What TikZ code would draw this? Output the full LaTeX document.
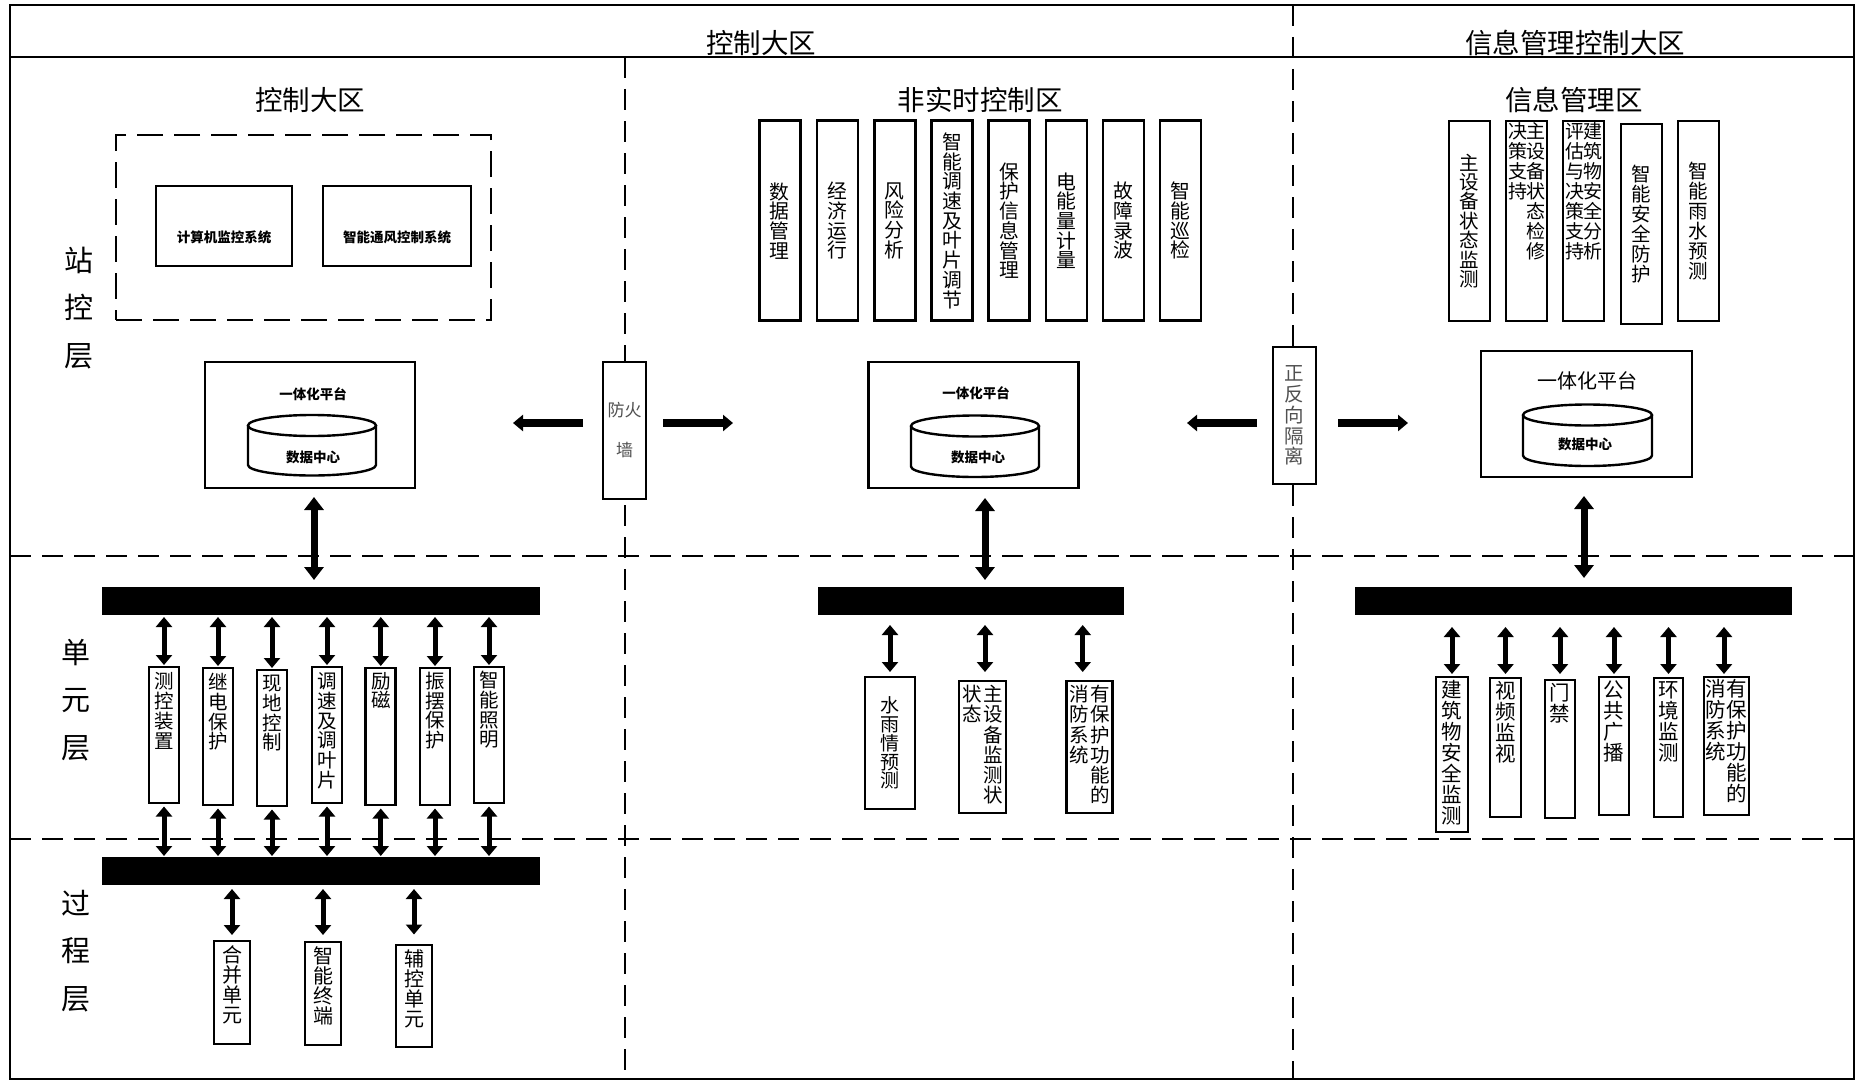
\documentclass[tikz,border=0pt]{standalone}
\usepackage{fontspec}
\setmainfont{Noto Sans CJK SC}
\usetikzlibrary{arrows.meta}
\definecolor{fwgray}{RGB}{80,80,80}
\makeatletter
\def\VT#1{\VT@a#1\@nil}
\def\VT@a#1#2\@nil{#1\ifx\relax#2\relax\expandafter\@gobble\else\expandafter\@firstofone\fi{\\\VT@a#2\@nil}}
\makeatother
\newcommand\fsz[2]{\fontsize{#1pt}{#2pt}\selectfont}
\newcommand\TBox[4]{\parbox[c][#2pt][t]{#1pt}{\centering\vspace*{#3pt}#4\par}}
\newcommand\CBox[3]{\parbox[c][#2pt][c]{#1pt}{\centering #3\par}}
\newcommand\TwoCol[3]{\parbox[t]{#1pt}{\centering\VT{#2}}\parbox[t]{#1pt}{\centering\VT{#3}}}
\tikzset{
  frameline/.style={line width=2.8pt},
  dashline/.style={line width=2.8pt, dash pattern=on 21pt off 11pt},
  dboxline/.style={draw, line width=2.8pt, dash pattern=on 26pt off 11pt, inner sep=0pt},
  vb/.style={draw, line width=2.8pt, fill=white, inner sep=0pt, outer sep=0pt},
  busbar/.style={fill=black, draw=none, inner sep=0pt, outer sep=0pt},
  dbl/.style={line width=5pt, {Triangle[width=16pt,length=10pt]}-{Triangle[width=16pt,length=10pt]}},
  bigdbl/.style={line width=7pt, {Triangle[width=19pt,length=13pt]}-{Triangle[width=19pt,length=13pt]}},
  harrow/.style={line width=8pt, -{Triangle[width=16pt,length=10pt]}},
  ttl/.style={inner sep=0pt, font=\fsz{27.5}{30}},
  layer/.style={inner sep=0pt, align=center, font=\fsz{29}{47.5}},
  smallb/.style={inner sep=0pt, font=\fsz{13.5}{14}\bfseries},
  cyl/.style={line width=2.4pt, fill=white},
}
\begin{document}
\lineskiplimit=-100pt\relax
\lineskip=0pt\relax
\begin{tikzpicture}[x=1pt,y=-1pt]
\useasboundingbox (0,0) rectangle (1856,1081);
% frame
\draw[frameline] (10,5) rectangle (1854,1079);
\draw[frameline] (10,57) -- (1854,57);
\draw[dashline] (625,57) -- (625,1079);
\draw[dashline] (1293,5) -- (1293,1079);
\draw[dashline] (10,556) -- (1854,556);
\draw[dashline] (10,839) -- (1854,839);
% titles
\node[ttl] (hdA) at (761,43) {控制大区};
\node[ttl] (hdB) at (1575,43) {信息管理控制大区};
\node[ttl] (tiA) at (310,100) {控制大区};
\node[ttl] (tiB) at (980,100) {非实时控制区};
\node[ttl] (tiC) at (1574,100) {信息管理区};
% layers
\node[layer] (ly1) at (79,308) {站\\控\\层};
\node[layer] (ly2) at (76,700) {单\\元\\层};
\node[layer] (ly3) at (76,951) {过\\程\\层};
% left station
\node[dboxline, minimum width=375pt, minimum height=185pt] (grp) at (303.5,227.5) {};
\node[vb, minimum width=136pt, minimum height=80pt] (b1) at (224,226) {};
\node[smallb] (b1t) at (224,237.5) {计算机监控系统};
\node[vb, minimum width=148pt, minimum height=80pt] (b2) at (397,226) {};
\node[smallb] (b2t) at (397,237.5) {智能通风控制系统};
\node[vb, minimum width=210pt, minimum height=126pt] (platL) at (310,425) {};
\draw[cyl] (248,425.5) -- (248,465) arc[start angle=180,end angle=360,x radius=64pt,y radius=10.5pt] -- (376,425.5);
\draw[cyl] (312,425.5) ellipse [x radius=64pt, y radius=10.5pt];
\node[smallb] (tL1) at (313,394) {一体化平台};
\node[smallb] (tL2) at (313,457) {数据中心};
% firewall
\node[vb, font=\fsz{17}{40}, text=fwgray] (fw) at (624.5,430.5) {\CBox{43}{137}{防火\\墙}};
\coordinate (fwLt) at (513,423);
\coordinate (fwRt) at (733,423);
\draw[harrow, shorten <=20pt] (fw.west |- fwLt) -- (fwLt);
\draw[harrow, shorten <=17pt] (fw.east |- fwRt) -- (fwRt);
% middle station
\foreach \i/\x/\t in {1/779.8/数据管理,2/837.5/经济运行,3/894.8/风险分析,4/952/智能调速及叶片调节,5/1009/保护信息管理,6/1066.5/电能量计量,7/1123.5/故障录波,8/1180.5/智能巡检}{
  \node[vb, font=\fsz{19.8}{19.7}] (n\i) at (\x,220.7) {\CBox{41}{200}{\expandafter\VT\expandafter{\t}}};
}
\node[vb, minimum width=210pt, minimum height=126pt] (platM) at (973.5,425) {};
\draw[cyl] (911,426) -- (911,466.5) arc[start angle=180,end angle=360,x radius=64pt,y radius=10.5pt] -- (1039,426);
\draw[cyl] (975,426) ellipse [x radius=64pt, y radius=10.5pt];
\node[smallb] (tM1) at (976,393) {一体化平台};
\node[smallb] (tM2) at (978,457) {数据中心};
% isolation
\node[vb, font=\fsz{19.5}{20.8}, text=fwgray] (iso) at (1294.5,415.5) {\CBox{43}{137}{\VT{正反向隔离}}};
\coordinate (isLt) at (1187,423);
\coordinate (isRt) at (1408,423);
\draw[harrow, shorten <=16pt] (iso.west |- isLt) -- (isLt);
\draw[harrow, shorten <=22pt] (iso.east |- isRt) -- (isRt);
% right station
\node[vb, font=\fsz{19.5}{19.4}] (r1) at (1469.5,221) {\CBox{41}{200}{\VT{主设备状态监测}}};
\node[vb, font=\fsz{19}{19.9}] (r2) at (1526.5,221) {\TBox{41}{200}{2}{\TwoCol{18.5}{决策支持}{主设备状态检修}}};
\node[vb, font=\fsz{19}{19.9}] (r3) at (1583.5,221) {\TBox{41}{200}{2}{\TwoCol{18.5}{评估与决策支持}{建筑物安全分析}}};
\node[vb, font=\fsz{19.5}{20}] (r4) at (1641.5,224) {\CBox{41}{200}{\VT{智能安全防护}}};
\node[vb, font=\fsz{19.5}{20}] (r5) at (1698.5,221) {\CBox{41}{200}{\VT{智能雨水预测}}};
\node[vb, minimum width=211pt, minimum height=126pt] (platR) at (1586.5,414) {};
\draw[cyl] (1523,415) -- (1523,455.5) arc[start angle=180,end angle=360,x radius=64.5pt,y radius=10.5pt] -- (1652,415);
\draw[cyl] (1587.5,415) ellipse [x radius=64.5pt, y radius=10.5pt];
\node[inner sep=0pt, font=\fsz{20}{20}] (tR1) at (1587,381) {一体化平台};
\node[smallb] (tR2) at (1585,444) {数据中心};
% buses
\node[busbar, minimum width=438pt, minimum height=28pt] (busL) at (321,601) {};
\node[busbar, minimum width=306pt, minimum height=28pt] (busM) at (971,601) {};
\node[busbar, minimum width=437pt, minimum height=28pt] (busR) at (1573.5,601) {};
\node[busbar, minimum width=438pt, minimum height=28pt] (busP) at (321,871) {};
% big vertical arrows
\coordinate (aL) at ([xshift=4pt]platL.south);
\coordinate (aM) at ([xshift=11.5pt]platM.south);
\coordinate (aR) at ([xshift=-2.5pt]platR.south);
\draw[bigdbl, shorten <=9pt, shorten >=7pt] (aL) -- (aL |- busL.north);
\draw[bigdbl, shorten <=10pt, shorten >=7pt] (aM) -- (aM |- busM.north);
\draw[bigdbl, shorten <=19pt, shorten >=9pt] (aR) -- (aR |- busR.north);
% left unit boxes
\begin{scope}[every node/.style={vb, font=\fsz{19.5}{19.8}}]
\node (u1) at (164,735) {\TBox{30}{136}{5.5}{\VT{测控装置}}};
\node (u2) at (218,736.5) {\TBox{30}{137}{5}{\VT{继电保护}}};
\node (u3) at (272,738) {\TBox{30}{136}{5}{\VT{现地控制}}};
\node (u4) at (327,735) {\TBox{30}{136}{5.5}{\VT{调速及调叶片}}};
\node (u5) at (380.75,736.5) {\TBox{30}{137}{4}{\VT{励磁}}};
\node (u6) at (435,736.5) {\TBox{30}{137}{4}{\VT{振摆保护}}};
\node (u7) at (489,735) {\TBox{30}{136}{4}{\VT{智能照明}}};
\end{scope}
\foreach \n in {u1,u2,u3,u4,u5,u6,u7}{
  \draw[dbl, shorten <=2pt, shorten >=2pt] (\n.north |- busL.south) -- (\n.north);
  \draw[dbl, shorten <=3.5pt, shorten >=1pt] (\n.south) -- (\n.south |- busP.north);
}
% process boxes
\begin{scope}[every node/.style={vb, font=\fsz{20}{20}}]
\node (p1) at (232,992.5) {\TBox{36}{103}{4.5}{\VT{合并单元}}};
\node (p2) at (323,993.5) {\TBox{36}{103}{4.5}{\VT{智能终端}}};
\node (p3) at (414,996) {\TBox{36}{102}{4.5}{\VT{辅控单元}}};
\end{scope}
\draw[dbl, shorten <=4pt, shorten >=6pt] (p1.north |- busP.south) -- (p1.north);
\draw[dbl, shorten <=4pt, shorten >=7pt] (p2.north |- busP.south) -- (p2.north);
\draw[dbl, shorten <=4pt, shorten >=10.5pt] (p3.north |- busP.south) -- (p3.north);
% middle unit boxes
\node[vb, font=\fsz{19}{18.8}] (m1) at (890,743) {\CBox{50}{132}{\VT{水雨情预测}}};
\node[vb, font=\fsz{19.5}{20.3}] (m2) at (982.5,747) {\TBox{47}{132}{4}{\TwoCol{21}{状态}{主设备监测状}}};
\node[vb, font=\fsz{19.5}{20.3}] (m3) at (1089.3,747) {\TBox{46}{132}{4}{\TwoCol{21}{消防系统}{有保护功能的}}};
\draw[dbl, shorten <=10pt, shorten >=5pt] (m1.north |- busM.south) -- (m1.north);
\coordinate (m2a) at ([xshift=2.5pt]m2.north);
\draw[dbl, shorten <=10pt, shorten >=9pt] (m2a |- busM.south) -- (m2a);
\coordinate (m3a) at ([xshift=-6.6pt]m3.north);
\draw[dbl, shorten <=10pt, shorten >=9pt] (m3a |- busM.south) -- (m3a);
% right unit boxes
\begin{scope}[every node/.style={vb, font=\fsz{20.5}{21}}]
\node (s1) at (1452,754.5) {\TBox{32}{155}{3.5}{\VT{建筑物安全监测}}};
\node (s2) at (1505.5,747.5) {\TBox{31}{139}{3.5}{\VT{视频监视}}};
\node (s3) at (1560,749) {\TBox{30}{138}{3.5}{\VT{门禁}}};
\node (s4) at (1614,746) {\TBox{30}{138}{3.5}{\VT{公共广播}}};
\node (s5) at (1668.5,747.5) {\TBox{29}{139}{3.5}{\VT{环境监测}}};
\node (s6) at (1726.5,746) {\TBox{45}{138}{2}{\TwoCol{21}{消防系统}{有保护功能的}}};
\end{scope}
\draw[dbl, shorten <=12pt, shorten >=3pt] (s1.north |- busR.south) -- (s1.north);
\draw[dbl, shorten <=12pt, shorten >=4pt] (s2.north |- busR.south) -- (s2.north);
\draw[dbl, shorten <=12pt, shorten >=6pt] (s3.north |- busR.south) -- (s3.north);
\draw[dbl, shorten <=12pt, shorten >=3pt] (s4.north |- busR.south) -- (s4.north);
\draw[dbl, shorten <=12pt, shorten >=4pt] (s5.north |- busR.south) -- (s5.north);
\coordinate (s6a) at ([xshift=-2.5pt]s6.north);
\draw[dbl, shorten <=12pt, shorten >=3pt] (s6a |- busR.south) -- (s6a);
\end{tikzpicture}
\end{document}
